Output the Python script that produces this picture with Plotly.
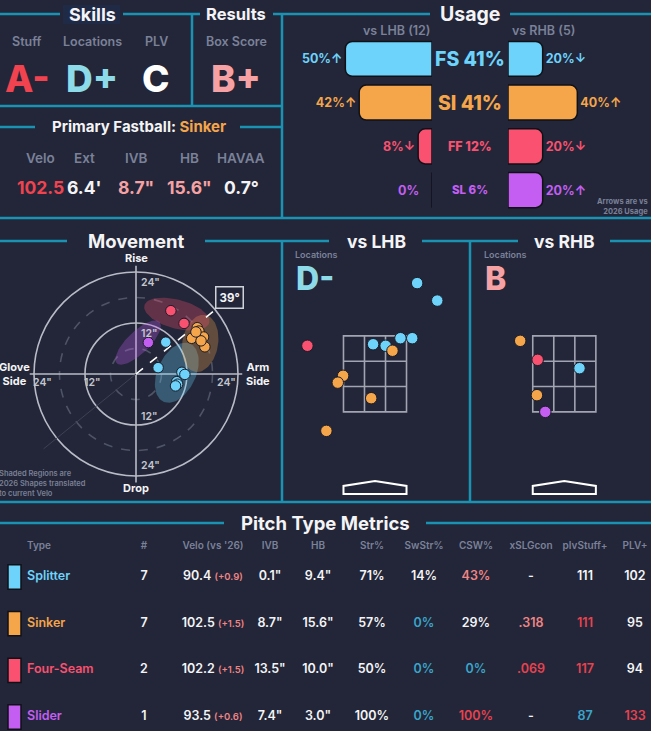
import numpy as np
import plotly.graph_objects as go

W, H = 651, 731
BG = '#222638'
LINE = '#1a93b3'
GREY = '#7b8199'
WHITE = '#f4f4f6'
FONT = 'Inter'

# ---- data -------------------------------------------------------------
pitch_names = ['Splitter', 'Sinker', 'Four-Seam', 'Slider']
pitch_abbr = ['FS', 'SI', 'FF', 'SL']
pitch_colors = ['#6dd3fb', '#f5a54a', '#fa5170', '#c45ef2']

grade_labels = ['Stuff', 'Locations', 'PLV', 'Box Score']
grade_values = ['A-', 'D+', 'C', 'B+']

fb_labels = ['Velo', 'Ext', 'IVB', 'HB', 'HAVAA']
fb_values = ['102.5', "6.4'", '8.7"', '15.6"', '0.7°']

usage_total = [41, 41, 12, 6]
usage_lhb = [50, 42, 8, 0]
usage_rhb = [20, 40, 20, 20]
lhb_arrow = ['↑', '↑', '↓', '']
rhb_arrow = ['↓', '↑', '↓', '↑']
n_lhb, n_rhb = 12, 5

# movement (inches): HB, IVB per pitch
mv_type = ['FS'] * 7 + ['SI'] * 7 + ['FF'] * 2 + ['SL']
mv_hb = [7.0, 5.2, 10.8, 11.5, 9.6, 9.8, 9.3,
         14.4, 14.8, 13.1, 15.9, 16.2, 15.3, 14.1,
         8.2, 11.3,
         2.9]
mv_ivb = [7.5, 1.5, 0.4, -0.1, -1.8, -2.4, -2.8,
          10.9, 10.1, 8.4, 8.7, 6.4, 7.8, 9.9,
          14.9, 11.9,
          7.4]
arm_angle = 39

# 2026 shape regions: centre, semi axes, tilt (deg)
ell_center = [(9.6, 0.3), (15.1, 7.2), (9.6, 14.1), (0.5, 7.4)]
ell_axes = [(7.5, 4.5), (6.8, 4.2), (7.9, 3.4), (7.0, 2.6)]
ell_angle = [65, 80, -15, 44]

# locations (feet): plate_x, plate_z
lhb_type = ['FS'] * 6 + ['SI'] * 5 + ['FF']
lhb_x = [1.11, 1.64, -0.05, 0.28, 0.67, 0.98, 0.46, -0.84, -0.98, -0.10, -1.28, -1.78]
lhb_z = [4.89, 4.43, 3.28, 3.24, 3.44, 3.44, 3.11, 2.45, 2.27, 1.86, 1.00, 3.24]
rhb_type = ['FS', 'SI', 'SI', 'FF', 'SL']
rhb_x = [0.40, -1.16, -0.72, -0.70, -0.50]
rhb_z = [2.65, 3.37, 1.94, 2.87, 1.50]
loc_grade = {'LHB': 'D-', 'RHB': 'B'}

# table
tbl_count = [7, 7, 2, 1]
tbl_velo = [90.4, 102.5, 102.2, 93.5]
tbl_velo_diff = ['+0.9', '+1.5', '+1.5', '+0.6']
tbl_ivb = [0.1, 8.7, 13.5, 7.4]
tbl_hb = [9.4, 15.6, 10.0, 3.0]
tbl_str = [71, 57, 50, 100]
tbl_swstr = [14, 0, 0, 0]
tbl_csw = [43, 29, 0, 100]
tbl_xslg = ['-', '.318', '.069', '-']
tbl_stuff = [111, 111, 117, 87]
tbl_plv = [102, 95, 94, 133]

# ---- styles -----------------------------------------------------------
color_of = dict(zip(pitch_abbr, pitch_colors))
grade_colors = ['#f0434f', '#8ddbe9', '#ffffff', '#f6a2a4']
fb_colors = ['#f0434f', WHITE, '#f6a2a4', '#f6a2a4', WHITE]
cell_col = {'w': WHITE, 'r': '#e8424f', 's': '#f08585', 'b': '#3aa5c9'}


def px(x):
    return x / W


def py(y):
    return 1 - y / H


fig = go.Figure()
shapes = []
annots = []


def seg(x0, y0, x1, y1):
    shapes.append(dict(type='line', xref='paper', yref='paper', x0=px(x0), y0=py(y0),
                       x1=px(x1), y1=py(y1), line=dict(color=LINE, width=2.5)))


def txt(s, x, y, size, color=WHITE, weight=700, xanchor='center', **kw):
    annots.append(dict(text=s, x=px(x), y=py(y), xref='paper', yref='paper', showarrow=False,
                       xanchor=xanchor, yanchor='middle',
                       font=dict(family=FONT, size=size, color=color, weight=weight), **kw))


# ---- panel frame ------------------------------------------------------
for x0, x1 in [(0, 60), (123, 200), (273, 430), (510, 651)]:
    seg(x0, 14, x1, 14)
seg(192, 14, 192, 106)
seg(282, 14, 282, 218)
seg(0, 106, 282, 106)
seg(0, 127, 35, 127)
seg(240, 127, 282, 127)
seg(0, 218, 651, 218)
for x0, x1 in [(0, 67), (205, 329), (422, 518), (610, 651)]:
    seg(x0, 241, x1, 241)
seg(282, 241, 282, 502)
seg(470, 241, 470, 502)
seg(0, 502, 651, 502)
seg(0, 523, 224, 523)
seg(426, 523, 651, 523)

shapes.append(dict(type='rect', xref='paper', yref='paper', x0=px(63), x1=px(120),
                   y0=py(24), y1=py(5), fillcolor='#1f2a47', line=dict(width=0), layer='below'))

# ---- skills / results -------------------------------------------------
txt('Skills', 92, 14, 18)
txt('Results', 236, 14, 16.5)
for lab, val, col, x in zip(grade_labels, grade_values, grade_colors, [27, 92, 156, 236]):
    txt(lab, x, 41, 12.5, GREY, 600)
    txt(val, x, 78, 37, col, 800)

txt("Primary Fastball: <span style='color:#f5a54a'>Sinker</span>", 139, 127, 15)
for lab, val, col, x in zip(fb_labels, fb_values, fb_colors, [40, 84, 136, 189, 241]):
    txt(lab, x, 158, 13.5, GREY, 600)
    txt(val, x, 187, 17.5, col, 700)

# ---- usage ------------------------------------------------------------
rows = list(range(len(pitch_abbr)))
txt('Usage', 470, 14, 19.5)
txt(f'vs LHB ({n_lhb})', 397, 30, 12.5, GREY, 600)
txt(f'vs RHB ({n_rhb})', 543, 30, 12.5, GREY, 600)
bar_style = dict(orientation='h', width=0.8, textposition='outside', cliponaxis=False,
                 marker=dict(color=pitch_colors, line=dict(color='#101117', width=1.5),
                             cornerradius=7),
                 textfont=dict(family=FONT, size=12.5, color=pitch_colors, weight=700),
                 hoverinfo='skip', showlegend=False)
fig.add_trace(go.Bar(x=usage_lhb, y=rows, xaxis='x', yaxis='y',
                     text=[f'{v}%{a}' if v else '' for v, a in zip(usage_lhb, lhb_arrow)],
                     **bar_style))
fig.add_trace(go.Bar(x=usage_rhb, y=rows, xaxis='x2', yaxis='y',
                     text=[f'{v}%{a}' for v, a in zip(usage_rhb, rhb_arrow)], **bar_style))
for r, v, col in zip(rows, usage_lhb, pitch_colors):
    if v == 0:
        annots.append(dict(text=f'{v}%', x=v, y=r, xref='x', yref='y', xanchor='center',
                           xshift=-24, showarrow=False,
                           font=dict(family=FONT, size=12.5, color=col, weight=700)))
center_size = [19.5, 19.5, 12.5, 11.5]
for r, ab, tot, col, sz in zip(rows, pitch_abbr, usage_total, pitch_colors, center_size):
    annots.append(dict(text=f'{ab} {tot}%', x=px(470), y=r, xref='paper', yref='y',
                       xanchor='center', showarrow=False,
                       font=dict(family=FONT, size=sz, color=col, weight=800)))
annots.append(dict(text='Arrows are vs<br>2026 Usage', x=px(650), y=py(206), xref='paper',
                   yref='paper', xanchor='right', yanchor='middle', align='right',
                   showarrow=False, font=dict(family=FONT, size=7.5, color=GREY, weight=700)))

# ---- movement ---------------------------------------------------------
txt('Movement', 136, 241, 18.5)
ring = '#b9bbc6'
for r, dash, col in [(6, 'dash', '#4f5366'), (12, 'solid', ring), (18, 'dash', '#4f5366'),
                     (24, 'solid', ring)]:
    shapes.append(dict(type='circle', xref='x3', yref='y3', x0=-r, y0=-r, x1=r, y1=r,
                       line=dict(color=col, width=1.6, dash=dash), layer='below'))
shapes.append(dict(type='line', xref='x3', yref='y3', x0=-25, x1=25, y0=0, y1=0,
                   line=dict(color=ring, width=1.6), layer='below'))
shapes.append(dict(type='line', xref='x3', yref='y3', x0=0, x1=0, y0=-25.5, y1=25.5,
                   line=dict(color=ring, width=1.6), layer='below'))
a = np.radians(arm_angle)
shapes.append(dict(type='line', xref='x3', yref='y3', x0=0, y0=0, x1=-28 * np.cos(a),
                   y1=-28 * np.sin(a), line=dict(color='#3d4154', width=1), layer='below'))

t = np.linspace(0, 2 * np.pi, 90)
for ab, (cx, cy), (ea, eb), ang in zip(pitch_abbr, ell_center, ell_axes, ell_angle):
    th = np.radians(ang)
    ex = cx + ea * np.cos(t) * np.cos(th) - eb * np.sin(t) * np.sin(th)
    ey = cy + ea * np.cos(t) * np.sin(th) + eb * np.sin(t) * np.cos(th)
    fig.add_trace(go.Scatter(x=ex, y=ey, xaxis='x3', yaxis='y3', mode='lines', fill='toself',
                             fillcolor=color_of[ab], opacity=0.3, line=dict(width=0),
                             hoverinfo='skip', showlegend=False))

fig.add_trace(go.Scatter(x=[0, 24.5 * np.cos(a)], y=[0, 24.5 * np.sin(a)], xaxis='x3',
                         yaxis='y3', mode='lines', line=dict(color='white', width=1.6, dash='dash'),
                         hoverinfo='skip', showlegend=False))
for ab in pitch_abbr:
    idx = [i for i, p in enumerate(mv_type) if p == ab]
    fig.add_trace(go.Scatter(x=[mv_hb[i] for i in idx], y=[mv_ivb[i] for i in idx],
                             xaxis='x3', yaxis='y3', mode='markers',
                             marker=dict(size=10.5, color=color_of[ab],
                                         line=dict(color='#1b1d29', width=1)),
                             showlegend=False))

for s, x, y, anchor in [('24"', 0.6, 21.6, 'left'), ('12"', 0.6, 9.6, 'left'),
                        ('12"', 0.6, -9.9, 'left'), ('24"', 0.6, -21.6, 'left'),
                        ('24"', -22.1, -1.9, 'center'), ('12"', -10.4, -1.9, 'center'),
                        ('24"', 21.4, -1.9, 'center')]:
    annots.append(dict(text=s, x=x, y=y, xref='x3', yref='y3', xanchor=anchor, showarrow=False,
                       font=dict(family=FONT, size=10.5, color='#c4c6cf', weight=600)))
for s, x, y in [('Rise', 0, 27.3), ('Drop', 0, -26.9), ('Glove<br>Side', -28.6, 0),
                ('Arm<br>Side', 28.6, 0)]:
    annots.append(dict(text=s, x=x, y=y, xref='x3', yref='y3', xanchor='center',
                       showarrow=False, font=dict(family=FONT, size=11, color=WHITE, weight=700)))
annots.append(dict(text=f'{arm_angle}°', x=22.0, y=18.0, xref='x3', yref='y3', showarrow=False,
                   bgcolor=BG, bordercolor='#d0d2da', borderwidth=1.5, borderpad=3,
                   font=dict(family=FONT, size=11.5, color=WHITE, weight=700)))
annots.append(dict(text='Shaded Regions are<br>2026 Shapes translated<br>to current Velo',
                   x=px(-3), y=py(483), xref='paper', yref='paper', xanchor='left',
                   yanchor='middle', align='left', showarrow=False,
                   font=dict(family=FONT, size=7.5, color='#7b8096', weight=600)))

# ---- locations --------------------------------------------------------
zone_col = '#a2a4b1'
for side, xa, ya, types, xs, zs, lx in [('LHB', 'x4', 'y4', lhb_type, lhb_x, lhb_z, 293),
                                        ('RHB', 'x5', 'y5', rhb_type, rhb_x, rhb_z, 482)]:
    ctr = 376 if side == 'LHB' else 564
    txt(f'vs {side}', ctr, 241, 17.5)
    txt('Locations', lx, 254, 9, GREY, 600, xanchor='left')
    txt(loc_grade[side], lx + 1, 278, 32, '#8ddbe9' if side == 'LHB' else '#f6a2a4', 800,
        xanchor='left')
    shapes.append(dict(type='rect', xref=xa, yref=ya, x0=-0.83, x1=0.83, y0=1.5, y1=3.5,
                       line=dict(color=zone_col, width=1.6), layer='below'))
    for gx in (-0.277, 0.277):
        shapes.append(dict(type='line', xref=xa, yref=ya, x0=gx, x1=gx, y0=1.5, y1=3.5,
                           line=dict(color=zone_col, width=1.6), layer='below'))
    for gz in (2.167, 2.833):
        shapes.append(dict(type='line', xref=xa, yref=ya, x0=-0.83, x1=0.83, y0=gz, y1=gz,
                           line=dict(color=zone_col, width=1.6), layer='below'))
    shapes.append(dict(type='path', xref=xa, yref=ya,
                       path='M -0.83 -0.66 L 0.83 -0.66 L 0.83 -0.45 L 0 -0.32 L -0.83 -0.45 Z',
                       line=dict(color='white', width=2), layer='below'))
    for ab in pitch_abbr:
        idx = [i for i, p in enumerate(types) if p == ab]
        if not idx:
            continue
        fig.add_trace(go.Scatter(x=[xs[i] for i in idx], y=[zs[i] for i in idx], xaxis=xa,
                                 yaxis=ya, mode='markers',
                                 marker=dict(size=11.5, color=color_of[ab],
                                             line=dict(color='#1b1d29', width=1)),
                                 showlegend=False))

# ---- table ------------------------------------------------------------
txt('Pitch Type Metrics', 325, 523, 18.5)
fig.add_trace(go.Bar(x=[13] * 4, base=8, y=rows, orientation='h', width=0.52, xaxis='x6',
                     yaxis='y6', marker=dict(color=pitch_colors, line=dict(color='#101117', width=1.5)),
                     hoverinfo='skip', showlegend=False))
fig.add_trace(go.Scatter(x=[27] * 4, y=rows, xaxis='x6', yaxis='y6', mode='text',
                         text=pitch_names, textposition='middle right',
                         textfont=dict(family=FONT, size=12.5, color=pitch_colors, weight=600),
                         showlegend=False))

columns = [
    ('#', 144, [str(v) for v in tbl_count], 'wwww'),
    ("Velo (vs '26)", 213,
     [f"{v:.1f} <span style='font-size:9.5px;color:#f08585'>({d})</span>"
      for v, d in zip(tbl_velo, tbl_velo_diff)], 'wwww'),
    ('IVB', 270, [f'{v:.1f}"' for v in tbl_ivb], 'wwww'),
    ('HB', 318, [f'{v:.1f}"' for v in tbl_hb], 'wwww'),
    ('Str%', 372, [f'{v}%' for v in tbl_str], 'wwww'),
    ('SwStr%', 424, [f'{v}%' for v in tbl_swstr], 'wbbb'),
    ('CSW%', 476, [f'{v}%' for v in tbl_csw], 'swbr'),
    ('xSLGcon', 531, tbl_xslg, 'wsrw'),
    ('plvStuff+', 585, [str(v) for v in tbl_stuff], 'wrrb'),
    ('PLV+', 635, [str(v) for v in tbl_plv], 'wwwr'),
]
fig.add_trace(go.Scatter(x=[27], y=[-0.66], xaxis='x6', yaxis='y6', mode='text',
                         textposition='middle right', text=['Type'],
                         textfont=dict(family=FONT, size=10, color=GREY, weight=600),
                         showlegend=False))
fig.add_trace(go.Scatter(x=[c[1] for c in columns], y=[-0.66] * len(columns), xaxis='x6',
                         yaxis='y6', mode='text', text=[c[0] for c in columns],
                         textfont=dict(family=FONT, size=10, color=GREY, weight=600),
                         showlegend=False))
for head, cx, vals, cols in columns:
    fig.add_trace(go.Scatter(x=[cx] * 4, y=rows, xaxis='x6', yaxis='y6', mode='text',
                             text=vals,
                             textfont=dict(family=FONT, size=12.5, weight=600,
                                           color=[cell_col[c] for c in cols]),
                             showlegend=False))

# ---- axes -------------------------------------------------------------
hidden = dict(visible=False, showgrid=False, zeroline=False, fixedrange=True)
fig.update_layout(
    width=W, height=H, margin=dict(l=0, r=0, t=0, b=0),
    paper_bgcolor=BG, plot_bgcolor=BG, barmode='overlay',
    font=dict(family=FONT, color=WHITE),
    shapes=shapes, annotations=annots,
    xaxis=dict(domain=[px(328), px(432)], range=[60, 0], **hidden),
    xaxis2=dict(domain=[px(508), px(612)], range=[0, 60], anchor='y', **hidden),
    yaxis=dict(domain=[py(212), py(37)], range=[3.5, -0.5], **hidden),
    xaxis3=dict(domain=[px(8.5), px(263.5)], range=[-30, 30], anchor='y3', **hidden),
    yaxis3=dict(domain=[py(501.5), py(246.5)], range=[-30, 30], anchor='x3', **hidden),
    xaxis4=dict(domain=[px(285), px(465)], range=[-2.37, 2.37], anchor='y4', **hidden),
    yaxis4=dict(domain=[py(500), py(255)], range=[-0.82, 5.63], anchor='x4', **hidden),
    xaxis5=dict(domain=[px(474.2), 1], range=[-2.37, 2.28], anchor='y5', **hidden),
    yaxis5=dict(domain=[py(500), py(255)], range=[-0.82, 5.63], anchor='x5', **hidden),
    xaxis6=dict(domain=[0, 1], range=[0, W], anchor='y6', **hidden),
    yaxis6=dict(domain=[0, py(530)], range=[3.3, -1.007], anchor='x6', **hidden),
)

fig.write_html('out.html', config={'displayModeBar': False},
               post_script="document.body.style.margin='0';"
                           "document.body.style.overflow='hidden';")
